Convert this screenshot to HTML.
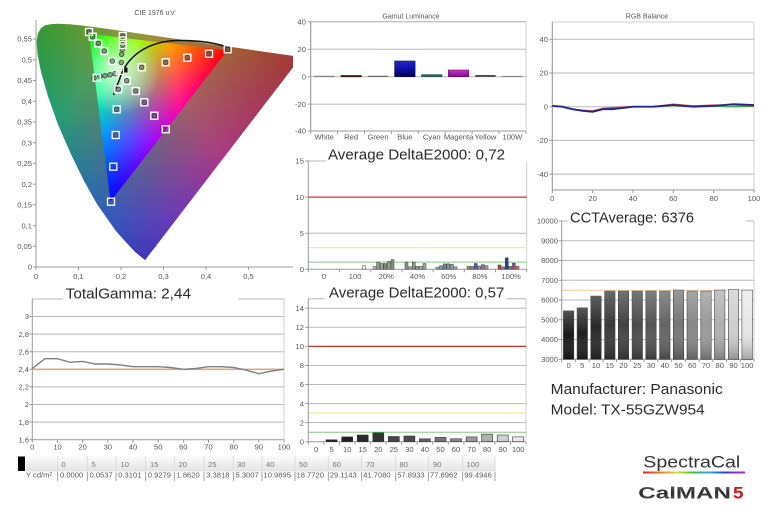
<!DOCTYPE html>
<html><head><meta charset="utf-8"><style>
html,body{margin:0;padding:0;background:#fff;}
svg{display:block;}
text{font-family:"Liberation Sans",sans-serif;}
.t{font-size:7.6px;fill:#555;}
.tm{font-size:7.6px;fill:#555;text-anchor:middle;}
.te{font-size:7.6px;fill:#555;text-anchor:end;}
.big{font-size:15px;fill:#2a2a2a;}
.grid{stroke:#b8b8b8;stroke-width:1;}
.ax{stroke:#999;stroke-width:1;fill:none;}
.fr{stroke:#cfcfcf;stroke-width:1;fill:none;}
</style></head><body>
<svg width="770" height="512" viewBox="0 0 770 512" xmlns="http://www.w3.org/2000/svg">
<defs>
<clipPath id="hs"><path d="M145.1,260.1 L135.7,252.5 L127.8,244.2 L115.8,230.9 L97.2,204.4 L84.7,182.3 L71.2,154.8 L58.1,124.9 L48.0,96.4 L41.1,72.3 L37.5,54.3 L36.6,41.8 L38.0,33.3 L41.2,27.8 L45.8,25.1 L51.3,24.1 L57.3,23.8 L69.7,24.3 L83.9,25.7 L101.1,28.0 L122.1,31.0 L147.5,34.7 L176.9,39.0 L207.5,43.5 L257.1,50.7 L301.0,57.1 Z"/></clipPath>
<clipPath id="pl"><rect x="36" y="10" width="257" height="257"/></clipPath>
<clipPath id="tri"><polygon points="227.5,50.3 89.1,33.8 110.5,201.5"/></clipPath>
<linearGradient id="oR" gradientUnits="userSpaceOnUse" x1="418.5" y1="39" x2="89.8" y2="216"><stop offset="0" stop-color="#a00014"/><stop offset="0.62" stop-color="#a00014"/><stop offset="1" stop-color="#000"/></linearGradient>
<linearGradient id="oG" gradientUnits="userSpaceOnUse" x1="-27.75" y1="-2.4" x2="233.9" y2="239"><stop offset="0" stop-color="#00981c"/><stop offset="0.4" stop-color="#00981c"/><stop offset="1" stop-color="#000"/></linearGradient>
<linearGradient id="oB" gradientUnits="userSpaceOnUse" x1="150.75" y1="329.2" x2="179.7" y2="16.85"><stop offset="0" stop-color="#2414b4"/><stop offset="0.35" stop-color="#2414b4"/><stop offset="1" stop-color="#000"/></linearGradient>
<linearGradient id="iR" gradientUnits="userSpaceOnUse" x1="227.5" y1="50.3" x2="93.4" y2="67.4"><stop offset="0" stop-color="#ff0000"/><stop offset="0.4" stop-color="#ff0000"/><stop offset="1" stop-color="#000"/></linearGradient>
<linearGradient id="iG" gradientUnits="userSpaceOnUse" x1="89.1" y1="33.8" x2="183.6" y2="107"><stop offset="0" stop-color="#00ff00"/><stop offset="0.35" stop-color="#00ff00"/><stop offset="1" stop-color="#000"/></linearGradient>
<linearGradient id="iB" gradientUnits="userSpaceOnUse" x1="110.5" y1="201.5" x2="129.9" y2="38.7"><stop offset="0" stop-color="#0000ff"/><stop offset="0.4" stop-color="#0000ff"/><stop offset="1" stop-color="#000"/></linearGradient>
<radialGradient id="glow" gradientUnits="userSpaceOnUse" cx="118" cy="72" r="42"><stop offset="0" stop-color="#fff" stop-opacity="0.8"/><stop offset="1" stop-color="#fff" stop-opacity="0"/></radialGradient>
<linearGradient id="blueBar" x1="0" y1="0" x2="0" y2="1"><stop offset="0" stop-color="#2424d0"/><stop offset="0.6" stop-color="#0c0c9a"/><stop offset="1" stop-color="#000040"/></linearGradient>
<linearGradient id="magBar" x1="0" y1="0" x2="0" y2="1"><stop offset="0" stop-color="#d030d0"/><stop offset="1" stop-color="#801080"/></linearGradient>
<linearGradient id="shade" x1="0" y1="0" x2="0" y2="1"><stop offset="0" stop-color="#fff" stop-opacity="0.25"/><stop offset="0.5" stop-color="#fff" stop-opacity="0"/><stop offset="1" stop-color="#000" stop-opacity="0.3"/></linearGradient>
<linearGradient id="hdr" x1="0" y1="0" x2="0" y2="1"><stop offset="0" stop-color="#fbfbfb"/><stop offset="1" stop-color="#e3e3e3"/></linearGradient>
<linearGradient id="rainbow" x1="0" y1="0" x2="1" y2="0"><stop offset="0" stop-color="#e02020"/><stop offset="0.18" stop-color="#f08020"/><stop offset="0.33" stop-color="#e8e020"/><stop offset="0.5" stop-color="#30c040"/><stop offset="0.65" stop-color="#20b0e0"/><stop offset="0.8" stop-color="#3040d0"/><stop offset="1" stop-color="#c020c0"/></linearGradient>
<linearGradient id="metal" x1="0" y1="0" x2="0" y2="1"><stop offset="0" stop-color="#6a6a6a"/><stop offset="0.45" stop-color="#2a2a2a"/><stop offset="1" stop-color="#5a5a5a"/></linearGradient>
</defs>
<rect width="770" height="512" fill="#fff"/>

<!-- ============ CIE ============ -->
<text x="155" y="15" style="font-size:7px;fill:#555;text-anchor:middle">CIE 1976 u'v'</text>
<g clip-path="url(#pl)">
<g clip-path="url(#hs)" style="isolation:isolate">
<rect x="0" y="0" width="300" height="270" fill="#000"/>
<rect x="0" y="0" width="300" height="270" fill="url(#oR)" style="mix-blend-mode:screen"/>
<rect x="0" y="0" width="300" height="270" fill="url(#oG)" style="mix-blend-mode:screen"/>
<rect x="0" y="0" width="300" height="270" fill="url(#oB)" style="mix-blend-mode:screen"/>
</g>
</g>
<g clip-path="url(#tri)" style="isolation:isolate">
<rect x="80" y="30" width="160" height="180" fill="#000"/>
<rect x="80" y="30" width="160" height="180" fill="url(#iR)" style="mix-blend-mode:screen"/>
<rect x="80" y="30" width="160" height="180" fill="url(#iG)" style="mix-blend-mode:screen"/>
<rect x="80" y="30" width="160" height="180" fill="url(#iB)" style="mix-blend-mode:screen"/>
<rect x="80" y="30" width="160" height="180" fill="url(#glow)"/>
</g>
<!-- axes -->
<line x1="36" y1="20" x2="36" y2="267" class="ax"/>
<line x1="36" y1="267" x2="293" y2="267" class="ax"/>
<g class="ax">
<path d="M33,267H36M33,246.3H36M33,225.6H36M33,204.8H36M33,184.1H36M33,163.4H36M33,142.7H36M33,121.9H36M33,101.2H36M33,80.5H36M33,59.8H36M33,39H36"/>
<path d="M36,267V270M78.5,267V270M121,267V270M163.5,267V270M206,267V270M248.5,267V270"/>
</g>
<g class="te">
<text x="32" y="269.7">0</text><text x="32" y="249">0,05</text><text x="32" y="228.3">0,1</text><text x="32" y="207.5">0,15</text><text x="32" y="186.8">0,2</text><text x="32" y="166.1">0,25</text><text x="32" y="145.4">0,3</text><text x="32" y="124.6">0,35</text><text x="32" y="103.9">0,4</text><text x="32" y="83.2">0,45</text><text x="32" y="62.5">0,5</text><text x="32" y="41.7">0,55</text>
</g>
<g class="tm">
<text x="36" y="279">0</text><text x="78.5" y="279">0,1</text><text x="121" y="279">0,2</text><text x="163.5" y="279">0,3</text><text x="206" y="279">0,4</text><text x="248.5" y="279">0,5</text>
</g>
<!-- planckian -->
<path d="M113.5,95 L120,78 C127,56 148,41 178,40.5 C203,40 219,44 229,47.5" fill="none" stroke="#111" stroke-width="1.5"/>
<rect x="122.5" y="67.5" width="5" height="5" fill="#111"/>
<!-- markers -->
<g fill="rgba(90,90,90,0.55)" stroke="#3a3a3a" stroke-width="0.7">
<circle cx="209" cy="53.7" r="2.3"/><circle cx="187.3" cy="57.7" r="2.3"/><circle cx="165.7" cy="62.3" r="2.3"/><circle cx="141.7" cy="67.3" r="2.3"/><circle cx="227.7" cy="49.3" r="2.3"/>
<circle cx="89" cy="32" r="2.3"/><circle cx="92.7" cy="36.7" r="2.3"/><circle cx="98.3" cy="43.3" r="2.3"/><circle cx="104.3" cy="51" r="2.3"/><circle cx="112.3" cy="61" r="2.3"/>
<circle cx="118.3" cy="89.3" r="2.3"/><circle cx="116.7" cy="109.3" r="2.3"/><circle cx="115.7" cy="135" r="2.3"/>
<circle cx="126.7" cy="80.7" r="2.3"/><circle cx="135.7" cy="91" r="2.3"/><circle cx="144.3" cy="102.3" r="2.3"/><circle cx="154.3" cy="115.7" r="2.3"/><circle cx="163" cy="129.3" r="2.3"/>
<circle cx="122.7" cy="36" r="2.3"/><circle cx="122.7" cy="40.5" r="2.3"/><circle cx="122.7" cy="45" r="2.3"/><circle cx="122.3" cy="49.5" r="2.3"/><circle cx="121.7" cy="54.3" r="2.3"/><circle cx="121.3" cy="62.5" r="2.3"/>
<circle cx="94" cy="78" r="2.3"/><circle cx="100" cy="76.3" r="2.3"/><circle cx="105" cy="75.7" r="2.3"/><circle cx="110" cy="74.7" r="2.3"/><circle cx="115" cy="73.7" r="2.3"/>
</g>
<g fill="none" stroke="#fff" stroke-width="1.3">
<rect x="224.2" y="45.8" width="7" height="7"/><rect x="205.5" y="50.2" width="7" height="7"/><rect x="183.8" y="54.2" width="7" height="7"/><rect x="162.2" y="58.8" width="7" height="7"/><rect x="138.2" y="63.8" width="7" height="7"/>
<rect x="85.5" y="28.5" width="7" height="7"/><rect x="89.2" y="33.2" width="7" height="7"/><rect x="94.8" y="39.8" width="7" height="7"/><rect x="100.8" y="47.5" width="7" height="7"/><rect x="108.8" y="57.5" width="7" height="7"/>
<rect x="114.8" y="85.8" width="7" height="7"/><rect x="113.2" y="105.8" width="7" height="7"/><rect x="112.2" y="131.5" width="7" height="7"/><rect x="109.8" y="163.2" width="7" height="7"/><rect x="107.5" y="198.2" width="7" height="7"/>
<rect x="123.2" y="77.2" width="7" height="7"/><rect x="132.2" y="87.5" width="7" height="7"/><rect x="140.8" y="98.8" width="7" height="7"/><rect x="150.8" y="112.2" width="7" height="7"/><rect x="162.2" y="125.8" width="7" height="7"/>
<rect x="119.2" y="32.5" width="7" height="7"/><rect x="119.2" y="37" width="7" height="7"/><rect x="119.2" y="41.5" width="7" height="7"/>
<rect x="93.2" y="74.2" width="7" height="7"/><rect x="116.5" y="67.5" width="7" height="7"/>
</g>

<!-- ============ Gamut Luminance ============ -->
<text x="411" y="18.5" style="font-size:7px;fill:#555;text-anchor:middle">Gamut Luminance</text>
<rect x="310.7" y="21.7" width="215.3" height="109.3" class="fr"/>
<path d="M310.7,49.2H526M310.7,76.7H526M310.7,104.1H526" class="grid"/>
<line x1="310.7" y1="21.7" x2="526" y2="21.7" class="grid"/>
<line x1="310.7" y1="21.7" x2="310.7" y2="131" class="ax"/>
<line x1="310.7" y1="131" x2="526" y2="131" class="ax"/>
<path d="M307.7,21.7H310.7M307.7,49.2H310.7M307.7,76.7H310.7M307.7,104.1H310.7M307.7,131H310.7M310.7,131V134M337.6,131V134M364.5,131V134M391.4,131V134M418.3,131V134M445.2,131V134M472.1,131V134M499,131V134M526,131V134" class="ax"/>
<g class="te"><text x="306" y="24.4">40</text><text x="306" y="51.9">20</text><text x="306" y="79.4">0</text><text x="306" y="106.8">-20</text><text x="306" y="133.7">-40</text></g>
<g class="tm"><text x="324.2" y="139.5">White</text><text x="351.1" y="139.5">Red</text><text x="378" y="139.5">Green</text><text x="404.9" y="139.5">Blue</text><text x="431.8" y="139.5">Cyan</text><text x="458.6" y="139.5">Magenta</text><text x="485.5" y="139.5">Yellow</text><text x="512.4" y="139.5">100W</text></g>
<rect x="314" y="75.8" width="20.5" height="1" fill="#777"/>
<rect x="341" y="75.4" width="20.5" height="1.5" fill="#500" stroke="#333" stroke-width="0.5"/>
<rect x="367.8" y="75.8" width="20.5" height="1" fill="#555"/>
<rect x="394.6" y="61" width="20.5" height="15.7" fill="url(#blueBar)" stroke="#101050" stroke-width="0.6"/>
<rect x="421.5" y="74.6" width="20.5" height="2.1" fill="#2a6a5a" stroke="#204040" stroke-width="0.5"/>
<rect x="448.3" y="70" width="20.5" height="6.7" fill="url(#magBar)" stroke="#602060" stroke-width="0.6"/>
<rect x="475.2" y="75.1" width="20.5" height="1.6" fill="#333"/>
<rect x="502.1" y="75.9" width="20.5" height="0.9" fill="#777"/>

<!-- ============ RGB Balance ============ -->
<text x="647" y="18.5" style="font-size:7px;fill:#555;text-anchor:middle">RGB Balance</text>
<rect x="552.3" y="22" width="201.7" height="168" class="fr"/>
<path d="M552.3,39.3H754M552.3,73H754M552.3,106.7H754M552.3,140.4H754M552.3,174.1H754" class="grid"/>
<line x1="552.3" y1="22" x2="552.3" y2="190" class="ax"/>
<line x1="552.3" y1="190" x2="754" y2="190" class="ax"/>
<path d="M549.3,39.3H552.3M549.3,73H552.3M549.3,106.7H552.3M549.3,140.4H552.3M549.3,174.1H552.3M552.3,190V193M592.6,190V193M633,190V193M673.3,190V193M713.7,190V193M754,190V193" class="ax"/>
<g class="te"><text x="548" y="42">40</text><text x="548" y="75.7">20</text><text x="548" y="109.4">0</text><text x="548" y="143.1">-20</text><text x="548" y="176.8">-40</text></g>
<g class="tm"><text x="552.3" y="201">0</text><text x="592.6" y="201">20</text><text x="633" y="201">40</text><text x="673.3" y="201">60</text><text x="713.7" y="201">80</text><text x="754" y="201">100</text></g>
<polyline points="552.3,106 562.4,106.7 572.5,109 582.6,110.5 592.6,111 602.7,109 612.8,108.5 633,106.9 653.2,106.9 673.3,105.5 693.5,106.7 713.7,106.2 733.8,106.7 754,106.4" fill="none" stroke="#40a848" stroke-width="1.3"/>
<polyline points="552.3,105.9 562.4,106.7 572.5,109.2 582.6,110.1 592.6,110.9 602.7,108.4 612.8,107.5 633,106.7 653.2,106.7 673.3,104.2 693.5,105.9 713.7,105 733.8,105 754,105.9" fill="none" stroke="#d04848" stroke-width="1.3"/>
<polyline points="552.3,105.9 562.4,106.7 572.5,109.2 582.6,110.9 592.6,111.8 602.7,109.2 612.8,109.2 633,106.7 653.2,106.7 673.3,105 693.5,106.7 713.7,105.9 733.8,104.2 754,105" fill="none" stroke="#242490" stroke-width="1.8"/>

<!-- ============ DeltaE middle ============ -->
<line x1="308.3" y1="161" x2="326" y2="161" class="grid"/>
<text x="328" y="159.3" class="big" textLength="177" lengthAdjust="spacingAndGlyphs">Average DeltaE2000: 0,72</text>
<line x1="526.7" y1="161" x2="526.7" y2="269.3" class="fr"/>
<line x1="308.3" y1="233.2" x2="526.7" y2="233.2" class="grid"/>
<line x1="308.3" y1="197.1" x2="526.7" y2="197.1" stroke="#d03030" stroke-width="1.2"/>
<line x1="308.3" y1="247.6" x2="526.7" y2="247.6" stroke="#f0ec80" stroke-width="1.2"/>
<line x1="308.3" y1="262.1" x2="526.7" y2="262.1" stroke="#88c888" stroke-width="1"/>
<line x1="308.3" y1="161" x2="308.3" y2="269.3" class="ax"/>
<line x1="308.3" y1="269.3" x2="526.7" y2="269.3" class="ax"/>
<path d="M305.3,161H308.3M305.3,197.1H308.3M305.3,233.2H308.3M305.3,269.3H308.3M308.3,269.3V272.3M339.5,269.3V272.3M370.7,269.3V272.3M401.9,269.3V272.3M433.1,269.3V272.3M464.3,269.3V272.3M495.5,269.3V272.3M526.7,269.3V272.3" class="ax"/>
<g class="te"><text x="304" y="163.7">15</text><text x="304" y="199.8">10</text><text x="304" y="235.9">5</text><text x="304" y="272">0</text></g>
<g class="tm"><text x="323.9" y="279">0</text><text x="355.1" y="279">100</text><text x="386.3" y="279">20%</text><text x="417.5" y="279">40%</text><text x="448.7" y="279">60%</text><text x="479.9" y="279">80%</text><text x="511.1" y="279">100%</text></g>
<g stroke="#444" stroke-width="0.5">
<rect x="362.5" y="265.7" width="3" height="3.6" fill="#eee"/>
<rect x="373" y="266.4" width="3" height="2.9" fill="#bbb"/><rect x="376.6" y="262.1" width="3" height="7.2" fill="#8c9c80"/><rect x="380.2" y="263.5" width="3" height="5.8" fill="#9aa890"/><rect x="383.8" y="263.5" width="3" height="5.8" fill="#7a8a70"/><rect x="387.4" y="261.4" width="3" height="7.9" fill="#8c9c80"/><rect x="391" y="259.6" width="3" height="9.7" fill="#7a9a70"/>
<rect x="405" y="262.1" width="3" height="7.2" fill="#8a9a80"/><rect x="408.6" y="266.8" width="3" height="2.5" fill="#aaa"/><rect x="412.2" y="262.1" width="3" height="7.2" fill="#8a9a80"/><rect x="415.8" y="266.4" width="3" height="2.9" fill="#999"/><rect x="419.4" y="266.4" width="3" height="2.9" fill="#aaa"/><rect x="423" y="263.5" width="3" height="5.8" fill="#9aa890"/>
<rect x="436" y="267.1" width="3" height="2.2" fill="#aab"/><rect x="439.6" y="265.7" width="3" height="3.6" fill="#8090a8"/><rect x="443.2" y="263.9" width="3" height="5.4" fill="#7080a8"/><rect x="446.8" y="263.9" width="3" height="5.4" fill="#8090b0"/><rect x="450.4" y="264.3" width="3" height="5" fill="#9098b0"/><rect x="454" y="266.8" width="3" height="2.5" fill="#aab"/>
<rect x="467" y="266.4" width="3" height="2.9" fill="#a09070"/><rect x="470.6" y="266.4" width="3" height="2.9" fill="#888"/><rect x="474.2" y="263.5" width="3" height="5.8" fill="#5060a0"/><rect x="477.8" y="266" width="3" height="3.3" fill="#999"/><rect x="481.4" y="264.6" width="3" height="4.7" fill="#9070a0"/><rect x="485" y="265.7" width="3" height="3.6" fill="#b0a080"/>
<rect x="498" y="265" width="3" height="4.3" fill="#b04040"/><rect x="501.6" y="266.8" width="3" height="2.5" fill="#888"/><rect x="505.2" y="257.8" width="3" height="11.5" fill="#2040a0"/><rect x="508.8" y="266.4" width="3" height="2.9" fill="#777"/><rect x="512.4" y="263.2" width="3" height="6.1" fill="#a040a0"/><rect x="516" y="266.4" width="3" height="2.9" fill="#c08040"/>
</g>

<!-- ============ CCT ============ -->
<line x1="561.7" y1="221" x2="568" y2="221" class="grid"/>
<line x1="746" y1="221" x2="754" y2="221" class="grid"/>
<text x="570" y="222.3" class="big" textLength="124" lengthAdjust="spacingAndGlyphs">CCTAverage: 6376</text>
<line x1="754" y1="221" x2="754" y2="359.3" class="fr"/>
<path d="M561.7,240.8H754M561.7,260.5H754M561.7,280.3H754M561.7,300H754M561.7,319.8H754M561.7,339.5H754" class="grid"/>
<line x1="561.7" y1="290.2" x2="754" y2="290.2" stroke="#f2c89c" stroke-width="1"/>
<line x1="561.7" y1="221" x2="561.7" y2="359.3" class="ax"/>
<line x1="561.7" y1="359.3" x2="754" y2="359.3" class="ax"/>
<path d="M558.7,221H561.7M558.7,240.8H561.7M558.7,260.5H561.7M558.7,280.3H561.7M558.7,300H561.7M558.7,319.8H561.7M558.7,339.5H561.7M558.7,359.3H561.7" class="ax"/>
<path d="M561.7,359.3V362.3M575.4,359.3V362.3M589.2,359.3V362.3M602.9,359.3V362.3M616.7,359.3V362.3M630.4,359.3V362.3M644.1,359.3V362.3M657.9,359.3V362.3M671.6,359.3V362.3M685.4,359.3V362.3M699.1,359.3V362.3M712.8,359.3V362.3M726.6,359.3V362.3M740.3,359.3V362.3M754,359.3V362.3" class="ax"/>
<g class="te"><text x="558" y="223.7">10000</text><text x="558" y="243.5">9000</text><text x="558" y="263.2">8000</text><text x="558" y="283">7000</text><text x="558" y="302.7">6000</text><text x="558" y="322.5">5000</text><text x="558" y="342.2">4000</text><text x="558" y="362">3000</text></g>
<g class="tm"><text x="568.6" y="368">0</text><text x="582.3" y="368">5</text><text x="596" y="368">10</text><text x="609.8" y="368">15</text><text x="623.5" y="368">20</text><text x="637.3" y="368">25</text><text x="651" y="368">30</text><text x="664.8" y="368">40</text><text x="678.5" y="368">50</text><text x="692.2" y="368">60</text><text x="706" y="368">70</text><text x="719.7" y="368">80</text><text x="733.5" y="368">90</text><text x="747.1" y="368">100</text></g>
<g stroke="#3a3a3a" stroke-width="0.6">
<rect x="563.4" y="310.9" width="10.4" height="48.4" fill="#181818"/>
<rect x="577.1" y="307.9" width="10.4" height="51.4" fill="#202020"/>
<rect x="590.8" y="296.1" width="10.4" height="63.2" fill="#282828"/>
<rect x="604.6" y="291.1" width="10.4" height="68.2" fill="#383838"/>
<rect x="618.3" y="291.1" width="10.4" height="68.2" fill="#424242"/>
<rect x="632.1" y="291.1" width="10.4" height="68.2" fill="#4a4a4a"/>
<rect x="645.8" y="291.1" width="10.4" height="68.2" fill="#545454"/>
<rect x="659.6" y="291.1" width="10.4" height="68.2" fill="#646464"/>
<rect x="673.3" y="290.1" width="10.4" height="69.2" fill="#767676"/>
<rect x="687" y="291.1" width="10.4" height="68.2" fill="#888"/>
<rect x="700.8" y="291.1" width="10.4" height="68.2" fill="#9a9a9a"/>
<rect x="714.5" y="290.1" width="10.4" height="69.2" fill="#b0b0b0"/>
<rect x="728.3" y="289.5" width="10.4" height="69.8" fill="#cfcfcf"/>
<rect x="741.9" y="290.1" width="10.4" height="69.2" fill="#e8e8e8"/>
</g>
<g fill="url(#shade)">
<rect x="563.4" y="310.9" width="10.4" height="48.4"/><rect x="577.1" y="307.9" width="10.4" height="51.4"/><rect x="590.8" y="296.1" width="10.4" height="63.2"/><rect x="604.6" y="291.1" width="10.4" height="68.2"/><rect x="618.3" y="291.1" width="10.4" height="68.2"/><rect x="632.1" y="291.1" width="10.4" height="68.2"/><rect x="645.8" y="291.1" width="10.4" height="68.2"/><rect x="659.6" y="291.1" width="10.4" height="68.2"/><rect x="673.3" y="290.1" width="10.4" height="69.2"/><rect x="687" y="291.1" width="10.4" height="68.2"/><rect x="700.8" y="291.1" width="10.4" height="68.2"/><rect x="714.5" y="290.1" width="10.4" height="69.2"/><rect x="728.3" y="289.5" width="10.4" height="69.8"/><rect x="741.9" y="290.1" width="10.4" height="69.2"/>
</g>
<text x="550.7" y="394" class="big" textLength="172" lengthAdjust="spacingAndGlyphs">Manufacturer: Panasonic</text>
<text x="550.7" y="414.3" class="big" textLength="154" lengthAdjust="spacingAndGlyphs">Model: TX-55GZW954</text>

<!-- ============ Gamma ============ -->
<line x1="32.3" y1="299" x2="63" y2="299" class="grid"/>
<line x1="238" y1="299" x2="284" y2="299" class="grid"/>
<text x="65.7" y="298.3" class="big" textLength="125.3" lengthAdjust="spacingAndGlyphs">TotalGamma: 2,44</text>
<line x1="284" y1="299" x2="284" y2="439.7" class="fr"/>
<path d="M32.3,316.5H284M32.3,334.1H284M32.3,351.7H284M32.3,386.9H284M32.3,404.5H284M32.3,422.1H284" class="grid"/>
<line x1="32.3" y1="369.3" x2="284" y2="369.3" stroke="#d4ae80" stroke-width="1.6"/>
<line x1="32.3" y1="299" x2="32.3" y2="439.7" class="ax"/>
<line x1="32.3" y1="439.7" x2="284" y2="439.7" class="ax"/>
<path d="M29.3,316.5H32.3M29.3,334.1H32.3M29.3,351.7H32.3M29.3,369.3H32.3M29.3,386.9H32.3M29.3,404.5H32.3M29.3,422.1H32.3M29.3,439.7H32.3" class="ax"/>
<path d="M32.3,439.7V442.7M57.5,439.7V442.7M82.6,439.7V442.7M107.8,439.7V442.7M133,439.7V442.7M158.2,439.7V442.7M183.3,439.7V442.7M208.5,439.7V442.7M233.7,439.7V442.7M258.8,439.7V442.7M284,439.7V442.7" class="ax"/>
<g class="te"><text x="29" y="319.2">3</text><text x="29" y="336.8">2,8</text><text x="29" y="354.4">2,6</text><text x="29" y="372">2,4</text><text x="29" y="389.6">2,2</text><text x="29" y="407.2">2</text><text x="29" y="424.8">1,8</text><text x="29" y="442.4">1,6</text></g>
<g class="tm"><text x="32.3" y="449.5">0</text><text x="57.5" y="449.5">10</text><text x="82.6" y="449.5">20</text><text x="107.8" y="449.5">30</text><text x="133" y="449.5">40</text><text x="158.2" y="449.5">50</text><text x="183.3" y="449.5">60</text><text x="208.5" y="449.5">70</text><text x="233.7" y="449.5">80</text><text x="258.8" y="449.5">90</text><text x="284" y="449.5">100</text></g>
<polyline points="32.3,368.4 44.9,358.7 57.5,358.7 70.1,362.3 82.6,361.4 95.2,364 107.8,364 120.4,364.9 133,366.7 158.2,366.7 170.7,367.5 183.3,369.3 195.9,368.4 208.5,366.7 221.1,366.7 233.7,367.5 246.2,370.2 258.8,373.7 271.4,371.1 284,369.3" fill="none" stroke="#7e7e8a" stroke-width="1.4"/>

<!-- ============ DeltaE bottom ============ -->
<line x1="308.3" y1="298.8" x2="325" y2="298.8" class="grid"/>
<line x1="506.7" y1="298.8" x2="526" y2="298.8" class="grid"/>
<text x="329" y="297.7" class="big" textLength="175.3" lengthAdjust="spacingAndGlyphs">Average DeltaE2000: 0,57</text>
<line x1="526" y1="298.8" x2="526" y2="441.7" class="fr"/>
<path d="M308.3,308.3H526M308.3,327.3H526M308.3,365.5H526M308.3,384.5H526M308.3,403.6H526M308.3,422.6H526" class="grid"/>
<line x1="308.3" y1="346.4" x2="526" y2="346.4" stroke="#d03030" stroke-width="1.2"/>
<line x1="308.3" y1="413.1" x2="526" y2="413.1" stroke="#f0ec80" stroke-width="1.2"/>
<line x1="308.3" y1="432.2" x2="526" y2="432.2" stroke="#88c888" stroke-width="1"/>
<line x1="308.3" y1="298.8" x2="308.3" y2="441.7" class="ax"/>
<line x1="308.3" y1="441.7" x2="526" y2="441.7" class="ax"/>
<path d="M305.3,308.3H308.3M305.3,327.3H308.3M305.3,346.4H308.3M305.3,365.5H308.3M305.3,384.5H308.3M305.3,403.6H308.3M305.3,422.6H308.3M305.3,441.7H308.3" class="ax"/>
<path d="M308.3,441.7V444.7M323.9,441.7V444.7M339.4,441.7V444.7M355,441.7V444.7M370.5,441.7V444.7M386.1,441.7V444.7M401.6,441.7V444.7M417.2,441.7V444.7M432.7,441.7V444.7M448.3,441.7V444.7M463.8,441.7V444.7M479.4,441.7V444.7M494.9,441.7V444.7M510.5,441.7V444.7M526,441.7V444.7" class="ax"/>
<g class="te"><text x="304" y="311">14</text><text x="304" y="330">12</text><text x="304" y="349.1">10</text><text x="304" y="368.2">8</text><text x="304" y="387.2">6</text><text x="304" y="406.3">4</text><text x="304" y="425.3">2</text><text x="304" y="444.4">0</text></g>
<g class="tm"><text x="316.1" y="452">0</text><text x="331.6" y="452">5</text><text x="347.2" y="452">10</text><text x="362.7" y="452">15</text><text x="378.3" y="452">20</text><text x="393.8" y="452">25</text><text x="409.4" y="452">30</text><text x="424.9" y="452">40</text><text x="440.5" y="452">50</text><text x="456" y="452">60</text><text x="471.6" y="452">70</text><text x="487.1" y="452">80</text><text x="502.7" y="452">90</text><text x="518.2" y="452">100</text></g>
<g stroke="#333" stroke-width="0.6">
<rect x="326.1" y="439.8" width="11" height="1.9" fill="#222"/>
<rect x="341.7" y="436.9" width="11" height="4.8" fill="#202020"/>
<rect x="357.2" y="435" width="11" height="6.7" fill="#2a2a2a"/>
<rect x="372.8" y="432.6" width="11" height="9.1" fill="#333"/>
<rect x="388.3" y="436.5" width="11" height="5.2" fill="#444"/>
<rect x="403.9" y="436" width="11" height="5.7" fill="#4a4a4a"/>
<rect x="419.4" y="438.8" width="11" height="2.9" fill="#666"/>
<rect x="435" y="437.4" width="11" height="4.3" fill="#777"/>
<rect x="450.5" y="438.8" width="11" height="2.9" fill="#888"/>
<rect x="466.1" y="436.9" width="11" height="4.8" fill="#9a9a9a"/>
<rect x="481.6" y="434.1" width="11" height="7.6" fill="#b0b0b0"/>
<rect x="497.2" y="435" width="11" height="6.7" fill="#cfcfcf"/>
<rect x="512.7" y="436.9" width="11" height="4.8" fill="#ececec"/>
</g>
<line x1="372.8" y1="432.6" x2="383.8" y2="432.6" stroke="#3a8a3a" stroke-width="1"/>

<!-- ============ table ============ -->
<rect x="18" y="456.5" width="7" height="14.5" fill="#000"/>
<rect x="26" y="456" width="469" height="15.5" fill="url(#hdr)"/>
<path d="M57.7,456V471.5M87.3,456V471.5M116,456V471.5M145.7,456V471.5M174.3,456V471.5M204,456V471.5M233.3,456V471.5M262,456V471.5M295,456V471.5M328.3,456V471.5M361.7,456V471.5M395.7,456V471.5M428.3,456V471.5M462.7,456V471.5M495,456V471.5" stroke="#d6d6d6" stroke-width="0.8"/>
<g class="t" style="fill:#777">
<text x="61.5" y="467">0</text><text x="91.5" y="467">5</text><text x="120.5" y="467">10</text><text x="150" y="467">15</text><text x="178.5" y="467">20</text><text x="208" y="467">25</text><text x="237" y="467">30</text><text x="266" y="467">40</text><text x="299" y="467">50</text><text x="332.5" y="467">60</text><text x="366" y="467">70</text><text x="399.5" y="467">80</text><text x="433" y="467">90</text><text x="466.5" y="467">100</text>
</g>
<path d="M57.7,472V481M87.3,472V481M116,472V481M145.7,472V481M174.3,472V481M204,472V481M233.3,472V481M262,472V481M295,472V481M328.3,472V481M361.7,472V481M395.7,472V481M428.3,472V481M462.7,472V481M495,472V481" stroke="#888" stroke-width="0.8"/>
<g class="t">
<text x="26" y="477.5">Y cd/m²</text>
<text x="60" y="477.5">0.0000</text><text x="89.5" y="477.5">0.0537</text><text x="118.2" y="477.5">0.3101</text><text x="147.8" y="477.5">0.9279</text><text x="176.5" y="477.5">1.8620</text><text x="206.2" y="477.5">3.3818</text><text x="235.5" y="477.5">5.3007</text><text x="263.5" y="477.5">10.9895</text><text x="296.5" y="477.5">18.7720</text><text x="329.8" y="477.5">29.1143</text><text x="363.2" y="477.5">41.7080</text><text x="397.2" y="477.5">57.8933</text><text x="430" y="477.5">77.6962</text><text x="464.3" y="477.5">99.4946</text>
</g>

<!-- ============ logo ============ -->
<text x="643.3" y="467.3" style="font-size:17px;fill:#333" textLength="97" lengthAdjust="spacingAndGlyphs">SpectraCal</text>
<rect x="643" y="471.5" width="102" height="2" fill="url(#rainbow)"/>
<text x="638.3" y="498.5" style="font-size:16.5px;font-weight:bold;fill:url(#metal)" textLength="92.7" lengthAdjust="spacingAndGlyphs">CalMAN</text>
<text x="733" y="498.5" style="font-size:16.5px;font-weight:bold;fill:#d01818" textLength="10.5" lengthAdjust="spacingAndGlyphs">5</text>
</svg>
</body></html>
